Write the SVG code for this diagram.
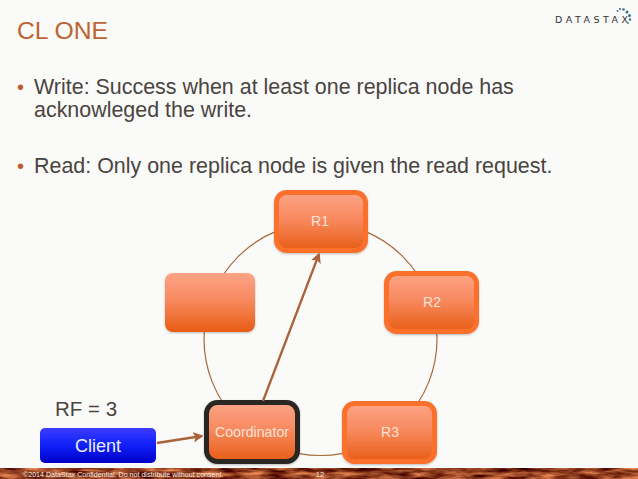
<svg xmlns="http://www.w3.org/2000/svg" width="638" height="479" viewBox="0 0 638 479">
<style>
text{font-family:"Liberation Sans",Arial,sans-serif}
.body{font-size:21.45px;fill:#4a4440}
.n{fill:url(#og);filter:url(#sh)}
.rep{stroke:#fb6f2c;stroke-width:5}
.lbl{font-size:14px;fill:#fbe3d8;text-anchor:middle}
.ring{fill:none;stroke:#a9683c;stroke-width:1.2}
.arr{fill:none;stroke:#a9623a;stroke-width:2.3;marker-end:url(#ah)}
.dot{fill:#3f6f8c}
</style>
<defs>
<linearGradient id="og" x1="0" y1="0" x2="0" y2="1"><stop offset="0" stop-color="#fca486"/><stop offset="0.45" stop-color="#f88a60"/><stop offset="1" stop-color="#e85c14"/></linearGradient>
<linearGradient id="bg" x1="0" y1="0" x2="0" y2="1"><stop offset="0" stop-color="#3c3cff"/><stop offset="0.5" stop-color="#1020f8"/><stop offset="1" stop-color="#0000c8"/></linearGradient>
<filter id="tex" x="0" y="0" width="1" height="1" color-interpolation-filters="sRGB"><feTurbulence type="fractalNoise" baseFrequency="0.045 0.22" numOctaves="4" seed="7"/><feColorMatrix values="1.1 0 0 0 0.02  0.9 0 0 0 -0.2  0.6 0 0 0 -0.17  0 0 0 0 1"/></filter>
<filter id="sh" x="-10%" y="-10%" width="120%" height="125%"><feDropShadow dx="0" dy="1" stdDeviation="1" flood-color="#000" flood-opacity="0.25"/></filter>
<marker id="ah" markerWidth="4.500" markerHeight="4.500" refX="3.800" refY="2.250" orient="auto"><path d="M0 0L4.500 2.250L0 4.500L1 2.250Z" fill="#a9623a"/></marker>
</defs>
<rect width="638" height="479" fill="#fafaf9"/>
<text x="17" y="38.500" font-size="24.700" fill="#bd6433">CL ONE</text>
<g id="logo"><text x="555" y="23" font-size="9.500" textLength="73" lengthAdjust="spacing" fill="#333" style="font-family:'DejaVu Sans',sans-serif">DATASTAX</text>
<circle class="dot" cx="617.500" cy="11" r="0.900"/><circle class="dot" cx="620" cy="9" r="1.100"/><circle class="dot" cx="623.500" cy="9.500" r="1.300"/><circle class="dot" cx="627" cy="12" r="1.500"/><circle class="dot" cx="629.500" cy="15.500" r="1.500"/><circle class="dot" cx="630" cy="19.500" r="1.200"/><circle class="dot" cx="628" cy="23" r="0.900"/></g>
<g id="bullets">
<text x="17" y="94" class="body" style="fill:#bd5a30;font-size:20px">•</text>
<text x="34" y="94" class="body">Write: Success when at least one replica node has</text>
<text x="34" y="117" class="body">acknowleged the write.</text>
<text x="17" y="173" class="body" style="fill:#bd5a30;font-size:20px">•</text>
<text x="34" y="173" class="body">Read: Only one replica node is given the read request.</text>
</g>
<g id="connectors">
<circle class="ring" cx="320.500" cy="339" r="116.500"/>
</g>
<g id="node-r1"><rect class="n rep" x="276.500" y="192.500" width="89" height="58" rx="10"/><text class="lbl" x="320" y="226">R1</text></g>
<g id="node-r2"><rect class="n rep" x="386.500" y="273.500" width="90" height="58" rx="10"/><text class="lbl" x="432" y="307">R2</text></g>
<g id="node-empty"><rect class="n" x="165" y="273" width="90" height="59" rx="8"/></g>
<g id="node-r3"><rect class="n rep" x="344.500" y="403.500" width="90" height="58" rx="10"/><text class="lbl" x="390" y="437">R3</text></g>
<g id="node-coordinator"><rect class="n" x="206.500" y="402.500" width="91" height="59" rx="11" stroke="#2a2520" stroke-width="5"/><text class="lbl" x="252" y="437" style="font-size:14.200px">Coordinator</text></g>
<g id="node-client"><rect x="40" y="428" width="116" height="35" rx="5" fill="url(#bg)"/><text x="98" y="452" font-size="18" fill="#e8ecff" text-anchor="middle">Client</text></g>
<text id="rf" x="55" y="416" font-size="20.500" fill="#4a4440">RF = 3</text>
<g id="arrows">
<line class="arr" x1="263" y1="401" x2="319" y2="254"/>
<line class="arr" x1="157" y1="443" x2="202" y2="436"/>
</g>
<g id="footer">
<rect y="468" width="638" height="11" fill="#8e3a1c" filter="url(#tex)"/>
<text x="23" y="477" font-size="7.100" fill="#f4ebe5">©2014 DataStax Confidential. Do not distribute without consent.</text>
<text x="320" y="477" font-size="7.500" fill="#f4ebe5" text-anchor="middle">12</text>
</g>
</svg>
